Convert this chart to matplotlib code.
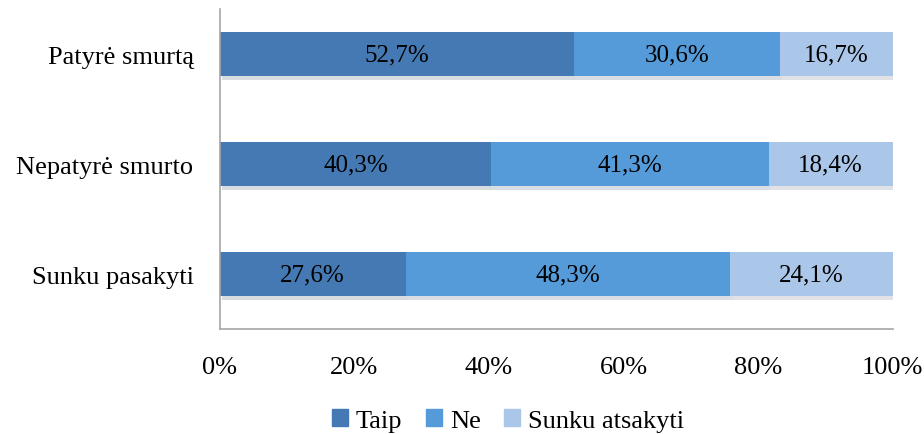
import matplotlib.pyplot as plt
import matplotlib.patheffects as pe
from matplotlib.patches import Patch

# data
categories = ["Patyrė smurtą", "Nepatyrė smurto", "Sunku pasakyti"]
taip = [52.7, 40.3, 27.6]
ne = [30.6, 41.3, 48.3]
sunku = [16.7, 18.4, 24.1]
series_names = ["Taip", "Ne", "Sunku atsakyti"]
xticks = [0, 20, 40, 60, 80, 100]

colors = ["#4579b3", "#559ad9", "#aac6e8"]

plt.rcParams['font.family'] = ['Liberation Serif', 'DejaVu Serif']
fs = 19

fig = plt.figure(figsize=(9.24, 4.35), dpi=100)
ax = fig.add_axes([0.238, 0.241, 0.728, 0.736])

ypos = [2, 1, 0]
shadow = [pe.SimplePatchShadow(offset=(1.5, -2.5), alpha=0.18, rho=0.5), pe.Normal()]

left = [0, 0, 0]
for vals, name, col in zip([taip, ne, sunku], series_names, colors):
    ax.barh(ypos, vals, left=left, height=0.4, color=col, path_effects=shadow, zorder=2)
    for y, v, l in zip(ypos, vals, left):
        ax.text(l + v / 2, y, f"{v:.1f}%".replace(".", ","), ha="center", va="center",
                fontsize=18, color="black", zorder=3)
    left = [a + b for a, b in zip(left, vals)]

ax.set_xlim(0, 100)
ax.set_ylim(-0.5, 2.41)
ax.set_xticks(xticks)
ax.set_xticklabels([f"{t}%" for t in xticks], fontsize=fs)
ax.set_yticks(ypos)
ax.set_yticklabels(categories, fontsize=fs)
ax.tick_params(axis="both", length=0)
ax.tick_params(axis="x", pad=19)
ax.tick_params(axis="y", pad=19)

for s in ["top", "right"]:
    ax.spines[s].set_visible(False)
for s in ["left", "bottom"]:
    ax.spines[s].set_color("#a6a6a6")
    ax.spines[s].set_linewidth(1.2)

handles = [Patch(color=c, label=n) for c, n in zip(colors, series_names)]
fig.legend(handles=handles, loc="lower center", bbox_to_anchor=(0.55, -0.05), ncol=3,
           frameon=False, fontsize=fs, handlelength=0.6, handleheight=0.6,
           handletextpad=0.3, columnspacing=0.9)

fig.savefig("out.png", dpi=100)
